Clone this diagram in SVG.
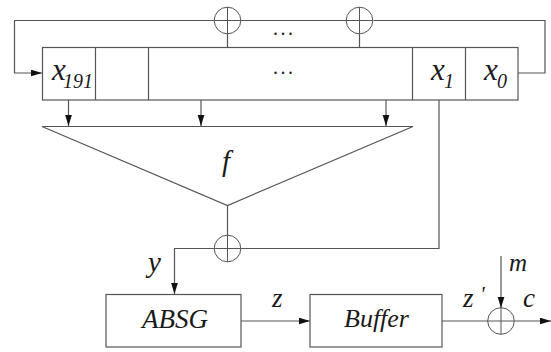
<svg xmlns="http://www.w3.org/2000/svg" width="551" height="352" viewBox="0 0 551 352">
<style>
.l{fill:none;stroke:#555;stroke-width:1.2}
.b{fill:#fff;stroke:#555;stroke-width:1.2}
.c{fill:none;stroke:#555;stroke-width:1}
.t{font-family:"Liberation Serif",serif;font-style:italic;fill:#1a1a1a}
.d{font-family:"Liberation Serif",serif;font-size:20px;letter-spacing:2.5px;fill:#222}
</style>
<defs>
<marker id="a" markerUnits="userSpaceOnUse" markerWidth="12" markerHeight="8" refX="11.500" refY="3.500" orient="auto"><path d="M0 0L11.500 3.500L0 7Z" fill="#111"/></marker>
<g id="x"><circle class="c" r="13.300"/><path class="c" d="M-13.300 0H13.300M0-13.300V13.300"/></g>
</defs>
<rect width="551" height="352" fill="#fff"/>
<g id="connectors">
<path class="l" d="M214 20.500H14.500V73H42" marker-end="url(#a)"/>
<path class="l" d="M241 20.500H347"/>
<path class="l" d="M373.500 20.500H545V73H518"/>
<path class="l" d="M227.500 34V47M359.500 34V47"/>
<path class="l" d="M68.500 100V126" marker-end="url(#a)"/>
<path class="l" d="M201 100V126" marker-end="url(#a)"/>
<path class="l" d="M386 100V126" marker-end="url(#a)"/>
<path class="l" d="M227.500 205.500V235"/>
<path class="l" d="M439 100V248.500H241"/>
<path class="l" d="M214 248.500H174.500V294" marker-end="url(#a)"/>
<path class="l" d="M241 321H310" marker-end="url(#a)"/>
<path class="l" d="M442 321H488"/>
<path class="l" d="M514.500 321H551" marker-end="url(#a)"/>
<path class="l" d="M501 256V308" marker-end="url(#a)"/>
</g>
<g id="register">
<rect class="b" x="42.500" y="47.500" width="475.500" height="52.500"/>
<path class="l" d="M95.500 47.500V100M148.500 47.500V100M412.500 47.500V100M465.500 47.500V100"/>
<text class="t" x="52" y="80" font-size="31">x</text><text class="t" x="63" y="88" font-size="20">191</text>
<text class="t" x="431" y="80" font-size="31">x</text><text class="t" x="444" y="88" font-size="20">1</text>
<text class="t" x="484" y="80" font-size="31">x</text><text class="t" x="497" y="88" font-size="20">0</text>
<text class="d" x="273" y="74">...</text>
</g>
<text class="d" x="273" y="35">...</text>
<g id="xor1"><use href="#x" x="227.500" y="20.500"/></g>
<g id="xor2"><use href="#x" x="359.500" y="20.500"/></g>
<g id="f">
<path class="l" d="M42 126.500H413L227.500 205.500Z"/>
<text class="t" x="222" y="171" font-size="29">f</text>
</g>
<g id="xor3"><use href="#x" x="227.500" y="248.500"/></g>
<text class="t" x="148" y="272" font-size="29">y</text>
<g id="absg"><rect class="b" x="106" y="294.500" width="135" height="52.500"/><text class="t" x="175" y="328" font-size="27" text-anchor="middle">ABSG</text></g>
<text class="t" x="272" y="307" font-size="27">z</text>
<g id="buffer"><rect class="b" x="310" y="294.500" width="132" height="52.500"/><text class="t" x="376.500" y="327" font-size="26" text-anchor="middle">Buffer</text></g>
<text class="t" x="463" y="307" font-size="27">z</text><text class="t" x="480" y="301" font-size="22">'</text>
<g id="xor4"><use href="#x" x="501" y="321"/></g>
<text class="t" x="509" y="271" font-size="25">m</text>
<text class="t" x="523" y="307" font-size="27">c</text>
</svg>
